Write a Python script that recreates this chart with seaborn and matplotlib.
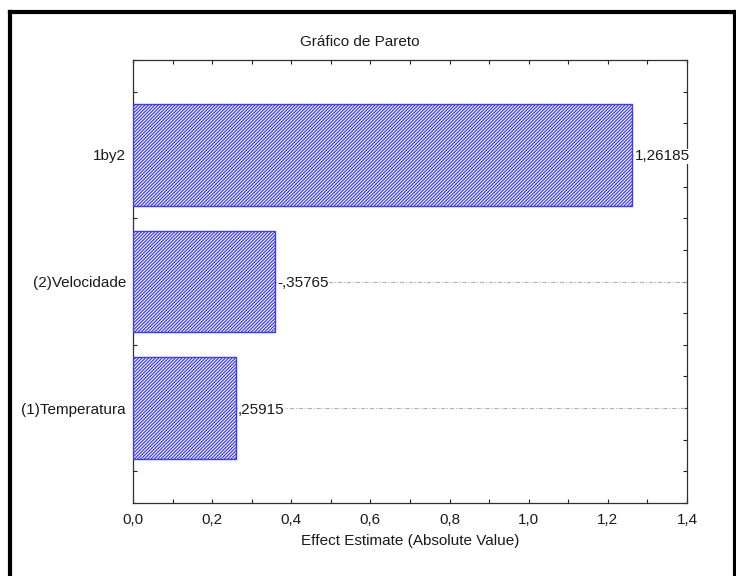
import numpy as np
import pandas as pd
import matplotlib
matplotlib.use("Agg")
import matplotlib.pyplot as plt
from matplotlib.lines import Line2D
import seaborn as sns

# ---------------------------------------------------------------------------
# Data (Pareto chart of effects)
# ---------------------------------------------------------------------------
factors = ["1by2", "(2)Velocidade", "(1)Temperatura"]
effects = [1.26185, -0.35765, 0.25915]
effect_labels = ["1,26185", "-,35765", ",25915"]
x_ticks = [0.0, 0.2, 0.4, 0.6, 0.8, 1.0, 1.2, 1.4]
x_tick_labels = ["0,0", "0,2", "0,4", "0,6", "0,8", "1,0", "1,2", "1,4"]

df = pd.DataFrame({"factor": factors, "abs_effect": np.abs(effects)})

sns.set_style("ticks")
plt.rcParams["font.family"] = ["Liberation Sans", "DejaVu Sans"]
plt.rcParams["hatch.linewidth"] = 0.9

FS = 11
TXT = "#1a1a1a"

fig = plt.figure(figsize=(7.36, 5.76), dpi=100)
ax = fig.add_axes([133 / 736, 1 - 503 / 576, 554 / 736, 443 / 576])

sns.barplot(data=df, x="abs_effect", y="factor", order=factors, orient="h",
            width=0.8, color="white", ax=ax)
for bar in ax.patches:
    bar.set_facecolor("white")
    bar.set_edgecolor("#3a3aff")
    bar.set_hatch("/" * 10)
    bar.set_linewidth(1.0)
    bar.set_zorder(3)

# dash-dot reference lines from bar end to right edge
ypos = np.arange(len(factors))
ax.hlines(ypos, np.abs(effects), 1.4, colors="#b0b0b0", linestyles=(0, (4, 1.5, 1, 1.5)),
          linewidth=0.8, zorder=1)
for y, v, lab in zip(ypos, np.abs(effects), effect_labels):
    ax.text(v + 0.006, y, lab, va="center_baseline", ha="left", fontsize=FS, color=TXT,
            zorder=4, bbox=dict(facecolor="white", edgecolor="none", pad=0.2))

ax.set_xlim(0, 1.4)
ax.set_ylim(2.75, -0.75)
ax.set_xticks(x_ticks)
ax.set_xticklabels(x_tick_labels)
ax.set_xticks(np.arange(0.1, 1.4, 0.2), minor=True)
ax.set_yticks(ypos)
ax.set_yticklabels(factors, va="center_baseline")
ax.set_yticks(np.arange(-0.75, 2.8, 0.25), minor=True)
ax.tick_params(which="both", direction="in", top=True, right=True, length=3,
               width=0.8, color="#202020", labelsize=FS, labelcolor=TXT)
ax.tick_params(axis="x", pad=7)
ax.tick_params(axis="y", pad=5)
for s in ax.spines.values():
    s.set_color("#303030")
    s.set_linewidth(0.9)
    s.set_visible(True)

ax.set_xlabel("Effect Estimate (Absolute Value)", fontsize=FS, color=TXT, labelpad=5)
ax.set_ylabel("")
fig.text(360 / 736, 1 - 42 / 576, "Gráfico de Pareto", ha="center", va="center",
         fontsize=FS, color=TXT)

# thick black frame around the picture
frame_kw = dict(color="black", linewidth=3, solid_capstyle="projecting")
fig.add_artist(Line2D([10 / 736, 10 / 736], [-0.1, 1 - 12 / 576], **frame_kw))
fig.add_artist(Line2D([10 / 736, 735 / 736], [1 - 12 / 576, 1 - 12 / 576], **frame_kw))
fig.add_artist(Line2D([735 / 736, 735 / 736], [-0.1, 1 - 12 / 576], **frame_kw))

fig.savefig("out.png", dpi=100)
